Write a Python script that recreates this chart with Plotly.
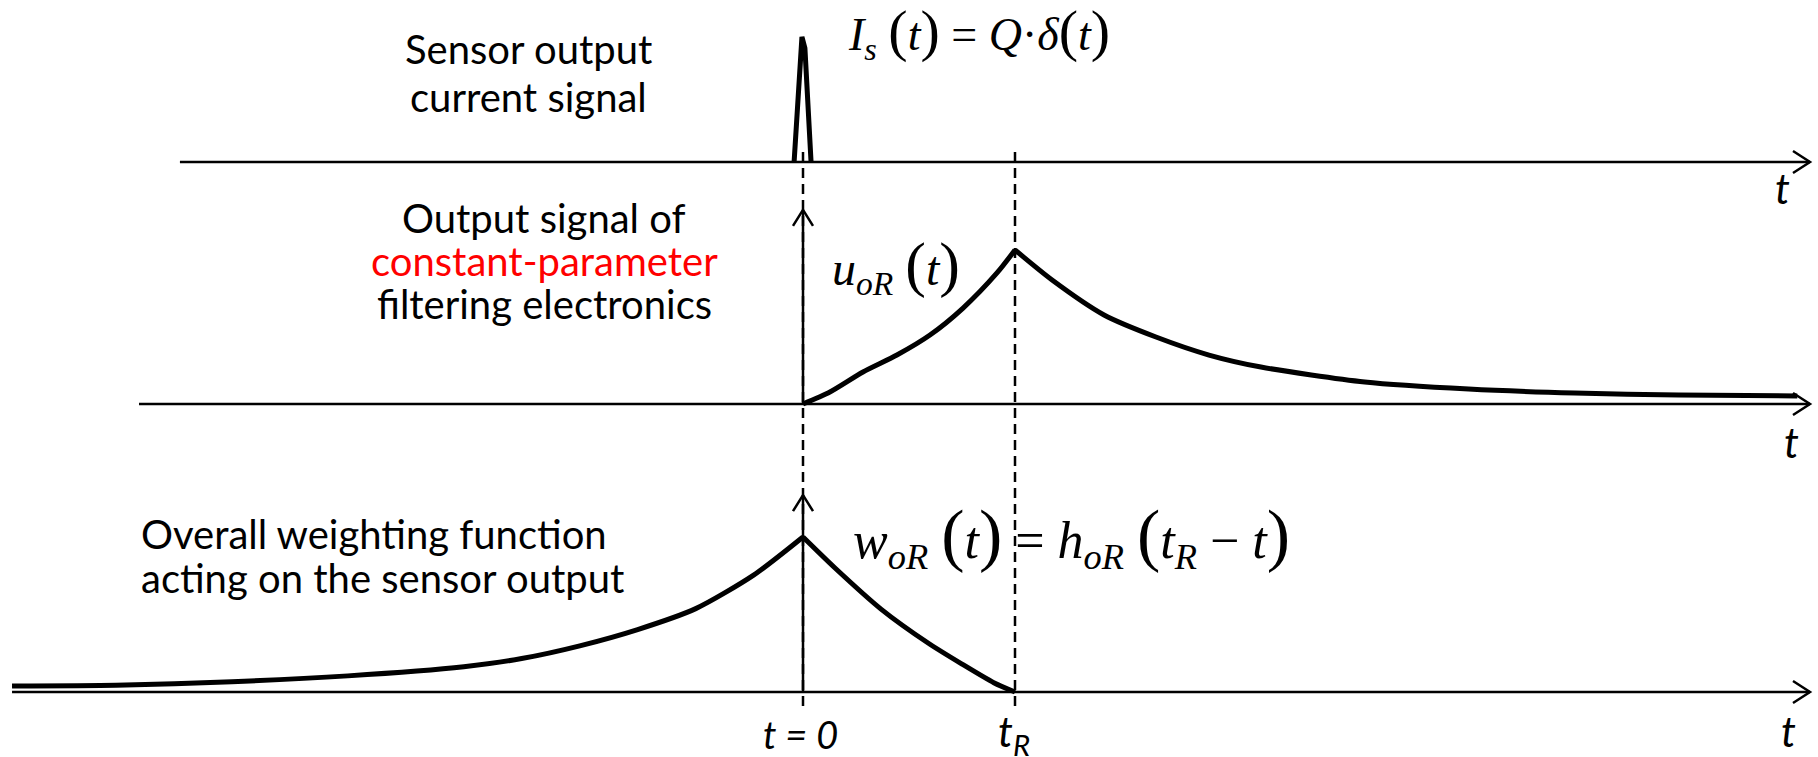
import plotly.graph_objects as go

# ---------------- data (time in units of t_R, amplitudes normalised) ----------------
T_R = 1.0

# sensor current pulse  I_s(t) = Q*delta(t)
spike_t = [-0.042, -0.005, 0.009, 0.038]
spike_v = [0.0, 1.0, 0.91, 0.0]

# output of constant-parameter filter u_oR(t)
u_t = [0.0, 0.127, 0.283, 0.443, 0.599, 0.755, 0.915, 1.0,
       1.175, 1.42, 1.665, 1.915, 2.16, 2.65, 3.14, 3.64, 4.13, 4.69]
u_v = [0.0, 0.078, 0.208, 0.318, 0.448, 0.623, 0.851, 1.0,
       0.805, 0.578, 0.435, 0.318, 0.240, 0.143, 0.097, 0.071, 0.058, 0.052]

# weighting function w_oR(t) = h_oR(t_R - t)
w_t = [-3.731, -3.241, -2.694, -2.147, -1.600, -1.327, -1.053, -0.780, -0.506, -0.233, 0.0,
       0.151, 0.368, 0.590, 0.750, 0.900, 1.0]
w_v = [0.039, 0.044, 0.066, 0.104, 0.163, 0.216, 0.298, 0.403, 0.538, 0.754, 1.0,
       0.800, 0.535, 0.316, 0.180, 0.060, 0.0]

# time-axis extents for each panel
axis_start = [-2.939, -3.132, -3.731]
axis_end = 4.75
vert_arrow_top = [1.26, 1.27]   # middle / bottom vertical axis heights

# ---------------- layout geometry (pixels) ----------------
W, H = 1818, 757
X0_PX, PX_PER_T = 803.0, 212.0           # t=0 position and scale
# (panel top px, panel bottom px, baseline px, unit px)
panels = [(0, 200, 162, 125), (200, 440, 404, 154), (440, 757, 692, 155)]


def paper_y(px):
    return 1 - px / H


def paper_x(px):
    return px / W


fig = go.Figure()

yaxes = {}
for i, (pt, pb, base, unit) in enumerate(panels):
    r1 = (base - pt) / unit
    r0 = -(pb - base) / unit
    key = "yaxis" if i == 0 else f"yaxis{i+1}"
    yaxes[key] = dict(domain=[paper_y(pb), paper_y(pt)], range=[r0, r1],
                      visible=False, anchor="x", fixedrange=True)

LW_CURVE = 5
LW_AXIS = 2.5


def add_curve(ts, vs, yref, smooth=True):
    line = dict(color="black", width=LW_CURVE)
    if smooth:
        line.update(shape="spline", smoothing=0.7)
    fig.add_trace(go.Scatter(x=ts, y=vs, yaxis=yref, mode="lines", line=line,
                             hoverinfo="skip"))


add_curve(spike_t, spike_v, "y", smooth=False)
# split each response at its peak so the cusp stays sharp
ku = u_v.index(max(u_v))
add_curve(u_t[:ku + 1], u_v[:ku + 1], "y2")
add_curve(u_t[ku:], u_v[ku:], "y2")
kw = w_v.index(max(w_v))
add_curve(w_t[:kw + 1], w_v[:kw + 1], "y3")
add_curve(w_t[kw:], w_v[kw:], "y3")

yrefs = ["y", "y2", "y3"]
shapes = []
# horizontal time axes with open arrowheads
for i, yr in enumerate(yrefs):
    shapes.append(dict(type="line", xref="x", yref=yr, x0=axis_start[i], x1=axis_end,
                       y0=0, y1=0, line=dict(color="black", width=LW_AXIS)))
    shapes.append(dict(type="path", xref="x", yref=yr, xsizemode="pixel", ysizemode="pixel",
                       xanchor=axis_end, yanchor=0, path="M -17,11 L 0,0 L -17,-11",
                       line=dict(color="black", width=LW_AXIS)))
# vertical axes in middle and bottom panels
for yr, top in zip(["y2", "y3"], vert_arrow_top):
    shapes.append(dict(type="line", xref="x", yref=yr, x0=0, x1=0, y0=0, y1=top,
                       line=dict(color="black", width=LW_AXIS)))
    shapes.append(dict(type="path", xref="x", yref=yr, xsizemode="pixel", ysizemode="pixel",
                       xanchor=0, yanchor=top, path="M -10,-16 L 0,0 L 10,-16",
                       line=dict(color="black", width=LW_AXIS)))
# dashed markers at t = 0 and t = t_R
for xv in (0.0, T_R):
    shapes.append(dict(type="line", xref="x", yref="paper", x0=xv, x1=xv,
                       y0=paper_y(706), y1=paper_y(150),
                       line=dict(color="black", width=2.5, dash="10px,6px")))

SANS = "Lato"
SERIF = "Liberation Serif"
LBL = 40


def ann(text, x, y, size=LBL, family=SANS, color="black", xanchor="center"):
    return dict(text=text, x=paper_x(x), y=paper_y(y), xref="paper", yref="paper",
                showarrow=False, xanchor=xanchor, yanchor="middle",
                font=dict(family=family, size=size, color=color))


def par(ch, size):
    return "<span style='font-size:%dpx'>%s</span>" % (size, ch)


top_eq = ("<i>I</i><sub><i>s</i></sub> " + par("(", 58) + "<i>t</i>" + par(")", 58)
          + " = <i>Q</i>·<i>δ</i>" + par("(", 58) + "<i>t</i>" + par(")", 58))
u_eq = "<i>u</i><sub><i>oR</i></sub> " + par("(", 62) + "<i>t</i>" + par(")", 62)
w_eq = ("<i>w</i><sub><i>oR</i></sub> " + par("(", 70) + "<i>t</i>" + par(")", 70)
        + " = <i>h</i><sub><i>oR</i></sub> " + par("(", 70)
        + "<i>t</i><sub><i>R</i></sub> − <i>t</i>" + par(")", 70))

annotations = [
    ann("Sensor output", 528, 49),
    ann("current signal", 528, 97),
    ann("Output signal of", 544, 218),
    ann("constant-parameter", 544, 261, color="#ff0000"),
    ann("filtering electronics", 544, 304),
    ann("Overall weighting function", 139, 534, xanchor="left"),
    ann("acting on the sensor output", 139, 578, xanchor="left"),
    ann("<i>t</i>", 1782, 188, size=42),
    ann("<i>t</i>", 1791, 442, size=42),
    ann("<i>t</i>", 1788, 731, size=42),
    ann("<i>t = 0</i>", 800, 734, size=38),
    ann("<i>t</i><sub><i>R</i></sub>", 1014, 734, size=42),
    ann(top_eq, 979, 33, size=46, family=SERIF),
    ann(u_eq, 896, 266, size=48, family=SERIF),
    ann(w_eq, 1071, 536, size=52, family=SERIF),
]

fig.update_layout(
    width=W, height=H, margin=dict(l=0, r=0, t=0, b=0),
    paper_bgcolor="white", plot_bgcolor="white", showlegend=False,
    xaxis=dict(range=[-X0_PX / PX_PER_T, (W - X0_PX) / PX_PER_T], visible=False,
               fixedrange=True, domain=[0, 1]),
    shapes=shapes, annotations=annotations, **yaxes,
)

fig.write_html("out.html", config={"displayModeBar": False},
               post_script="document.body.style.margin='0px';document.body.style.overflow='hidden';")
